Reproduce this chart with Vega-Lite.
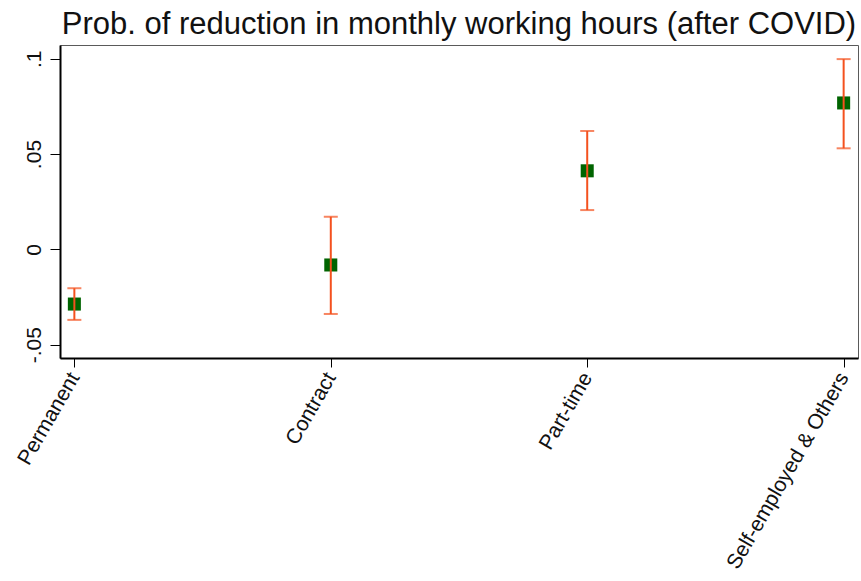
{
  "$schema": "https://vega.github.io/schema/vega-lite/v6.json",
  "width": 798,
  "height": 313,
  "autosize": "none",
  "padding": {"left": 60, "top": 45, "right": 3, "bottom": 223},
  "background": "white",
  "title": {
    "text": "Prob. of reduction in monthly working hours (after COVID)",
    "font": "Liberation Sans",
    "fontSize": 31,
    "fontWeight": "normal",
    "color": "#111111",
    "anchor": "middle",
    "frame": "group",
    "baseline": "alphabetic",
    "offset": 11,
    "dy": 31
  },
  "config": {
    "view": {"stroke": "#5a5a5a", "strokeWidth": 1},
    "axis": {
      "labelFont": "Liberation Sans",
      "labelFontSize": 21,
      "labelColor": "#111111",
      "labelLimit": 0,
      "domainColor": "#000000",
      "domainWidth": 2,
      "tickColor": "#000000",
      "tickWidth": 1,
      "tickSize": 10,
      "grid": false,
      "title": null
    }
  },
  "data": {
    "values": [
      {"type": "Permanent", "est": -0.0287, "lo": -0.0370, "hi": -0.0204},
      {"type": "Contract", "est": -0.0082, "lo": -0.0339, "hi": 0.0171},
      {"type": "Part-time", "est": 0.0412, "lo": 0.0206, "hi": 0.0621},
      {"type": "Self-employed & Others", "est": 0.0768, "lo": 0.0530, "hi": 0.0998}
    ]
  },
  "encoding": {
    "x": {
      "field": "type",
      "type": "nominal",
      "sort": null,
      "scale": {"type": "point", "padding": 0.056},
      "axis": {
        "labelAngle": -60,
        "labelAlign": "right",
        "labelBaseline": "middle",
        "labelPadding": 7,
        "tickSize": 9
      }
    }
  },
  "layer": [
    {
      "mark": {"type": "square", "size": 170, "color": "#006400", "opacity": 1, "filled": true},
      "encoding": {
        "y": {
          "field": "est",
          "type": "quantitative",
          "scale": {"domain": [-0.057, 0.1072], "nice": false, "zero": false},
          "axis": {
            "values": [-0.05, 0, 0.05, 0.1],
            "labelExpr": "datum.value == 0 ? '0' : (datum.value < 0 ? '-' : '') + replace(format(abs(datum.value), '.2~f'), '0.', '.')",
            "labelAngle": -90,
            "labelAlign": "center",
            "labelBaseline": "bottom",
            "labelPadding": 6
          }
        }
      }
    },
    {
      "mark": {"type": "rule", "color": "#f4511e", "strokeWidth": 2},
      "encoding": {
        "y": {"field": "lo", "type": "quantitative"},
        "y2": {"field": "hi"}
      }
    },
    {
      "mark": {"type": "tick", "color": "#f4511e", "size": 14, "thickness": 2, "orient": "horizontal"},
      "encoding": {"y": {"field": "lo", "type": "quantitative"}}
    },
    {
      "mark": {"type": "tick", "color": "#f4511e", "size": 14, "thickness": 2, "orient": "horizontal"},
      "encoding": {"y": {"field": "hi", "type": "quantitative"}}
    }
  ]
}
